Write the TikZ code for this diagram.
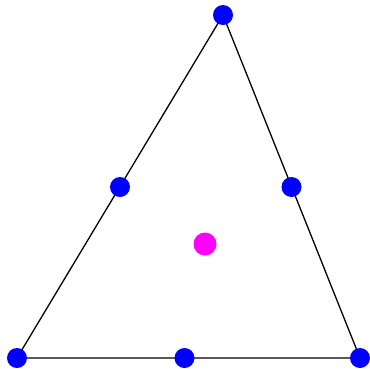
\documentclass[tikz,border=0pt]{standalone}
\usepackage{tikz}
\usetikzlibrary{positioning}
\definecolor{ptblue}{RGB}{0,0,255}
\definecolor{ptmag}{RGB}{255,0,255}

\begin{document}
\begin{tikzpicture}[
        x=1pt, y=-1pt,
        vert/.style={circle, fill=ptblue, inner sep=0pt, minimum size=20pt},
        ctr/.style={circle, fill=ptmag, inner sep=0pt, minimum size=23pt},
        edge/.style={draw, line width=1.3pt}
      ]
      \useasboundingbox (0,0) rectangle (370,368);
      \coordinate (a) at (17,358);
      \coordinate (b) at (223,15);
      \coordinate (c) at (360,358);

      \draw[edge] (a) -- (b) -- (c) -- cycle;

      \node[vert] (va) at (a) {};
      \node[vert] (vb) at (b) {};
      \node[vert] (vc) at (c) {};
      \node[vert] (mab) at (120,187) {};
      \node[vert] (mbc) at (291.5,187) {};
      \node[vert] (mca) at (184.5,358) {};
      \node[ctr] (g) at (205,244) {};
    \end{tikzpicture}
\end{document}
